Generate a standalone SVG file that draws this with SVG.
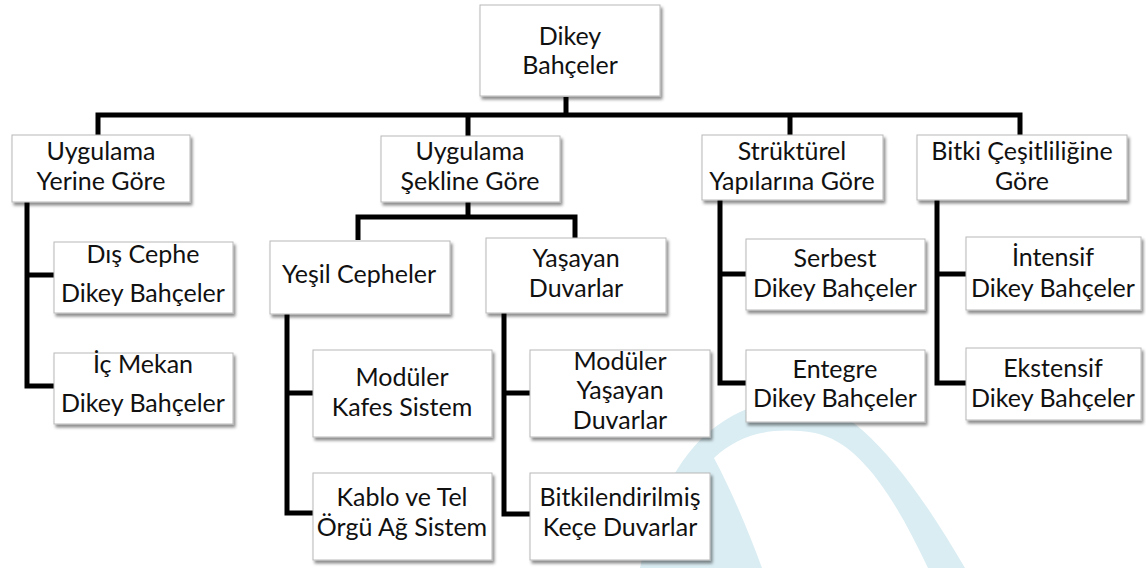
<svg xmlns="http://www.w3.org/2000/svg" width="1146" height="568" viewBox="0 0 1146 568">
  <defs>
    <filter id="shadow" x="-10%" y="-10%" width="130%" height="140%">
      <feDropShadow dx="2" dy="3" stdDeviation="1.8" flood-color="#000" flood-opacity="0.45"/>
    </filter>
    <style>
      .box { fill: #ffffff; stroke: #b8b8b8; stroke-width: 1; filter: url(#shadow); }
      .lbl { font-family: "Lato", "Liberation Sans", sans-serif; font-size: 25px; fill: #111; text-anchor: middle; }
      .wire { fill: none; stroke: #000; stroke-width: 5; stroke-linejoin: miter; stroke-linecap: butt; }
    </style>
  </defs>

  <rect width="1146" height="568" fill="#ffffff"/>

  <!-- pale background swoosh -->
  <path d="M640 568 C 650 515 672 468 702 438 C 732 410 770 397 800 399 C 852 404 905 465 965 568 L 928 568 C 892 492 858 442 815 433 C 772 426 740 434 714 458 C 732 492 748 530 762 568 Z" fill="#daedf3"/>

  <!-- connectors -->
  <g id="connectors">
    <path class="wire" d="M566 97 V115"/>
    <path class="wire" d="M98 135 V115 H1020 V135"/>
    <path class="wire" d="M468 115 V136"/>
    <path class="wire" d="M790 115 V135"/>
    <path class="wire" d="M27 202 V386 H54"/>
    <path class="wire" d="M27 275 H54"/>
    <path class="wire" d="M468 202 V217"/>
    <path class="wire" d="M358 240 V217 H575 V238"/>
    <path class="wire" d="M287 313 V513 H313"/>
    <path class="wire" d="M287 393 H313"/>
    <path class="wire" d="M504 313 V514 H530"/>
    <path class="wire" d="M504 393 H530"/>
    <path class="wire" d="M720 200 V383 H746"/>
    <path class="wire" d="M720 274 H746"/>
    <path class="wire" d="M937 200 V383 H968"/>
    <path class="wire" d="M937 274 H968"/>
  </g>

  <!-- root -->
  <g id="n-root">
    <rect class="box" x="480" y="5" width="180" height="91"/>
    <text class="lbl" x="570" y="45">Dikey</text>
    <text class="lbl" x="570" y="74">Bahçeler</text>
  </g>

  <!-- first level -->
  <g id="n-yerine">
    <rect class="box" x="12" y="135" width="178" height="67"/>
    <text class="lbl" x="101" y="160">Uygulama</text>
    <text class="lbl" x="101" y="190">Yerine Göre</text>
  </g>
  <g id="n-sekline">
    <rect class="box" x="381" y="136" width="179" height="66"/>
    <text class="lbl" x="470" y="160">Uygulama</text>
    <text class="lbl" x="470" y="190">Şekline Göre</text>
  </g>
  <g id="n-strukturel">
    <rect class="box" x="702" y="135" width="181" height="65"/>
    <text class="lbl" x="792" y="160">Strüktürel</text>
    <text class="lbl" x="792" y="190">Yapılarına Göre</text>
  </g>
  <g id="n-bitki">
    <rect class="box" x="917" y="135" width="210" height="65"/>
    <text class="lbl" x="1022" y="160">Bitki Çeşitliliğine</text>
    <text class="lbl" x="1022" y="190">Göre</text>
  </g>

  <!-- by location -->
  <g id="n-dis">
    <rect class="box" x="54" y="242" width="179" height="71"/>
    <text class="lbl" x="143" y="263">Dış Cephe</text>
    <text class="lbl" x="143" y="302">Dikey Bahçeler</text>
  </g>
  <g id="n-ic">
    <rect class="box" x="54" y="353" width="179" height="71"/>
    <text class="lbl" x="143" y="373">İç Mekan</text>
    <text class="lbl" x="143" y="412">Dikey Bahçeler</text>
  </g>

  <!-- by form -->
  <g id="n-yesil">
    <rect class="box" x="270" y="241" width="180" height="73"/>
    <text class="lbl" x="359" y="283">Yeşil Cepheler</text>
  </g>
  <g id="n-yasayan">
    <rect class="box" x="486" y="238" width="180" height="75"/>
    <text class="lbl" x="576" y="267">Yaşayan</text>
    <text class="lbl" x="576" y="297">Duvarlar</text>
  </g>
  <g id="n-kafes">
    <rect class="box" x="313" y="350" width="179" height="87"/>
    <text class="lbl" x="402" y="386">Modüler</text>
    <text class="lbl" x="402" y="416">Kafes Sistem</text>
  </g>
  <g id="n-kablo">
    <rect class="box" x="313" y="473" width="179" height="87"/>
    <text class="lbl" x="402" y="506">Kablo ve Tel</text>
    <text class="lbl" x="402" y="536">Örgü Ağ Sistem</text>
  </g>
  <g id="n-modyasayan">
    <rect class="box" x="530" y="350" width="180" height="87"/>
    <text class="lbl" x="620" y="370">Modüler</text>
    <text class="lbl" x="620" y="399">Yaşayan</text>
    <text class="lbl" x="620" y="429">Duvarlar</text>
  </g>
  <g id="n-kece">
    <rect class="box" x="530" y="473" width="180" height="87"/>
    <text class="lbl" x="620" y="506">Bitkilendirilmiş</text>
    <text class="lbl" x="620" y="536">Keçe Duvarlar</text>
  </g>

  <!-- by structure -->
  <g id="n-serbest">
    <rect class="box" x="746" y="239" width="179" height="71"/>
    <text class="lbl" x="835" y="267">Serbest</text>
    <text class="lbl" x="835" y="297">Dikey Bahçeler</text>
  </g>
  <g id="n-entegre">
    <rect class="box" x="746" y="350" width="179" height="72"/>
    <text class="lbl" x="835" y="378">Entegre</text>
    <text class="lbl" x="835" y="407">Dikey Bahçeler</text>
  </g>

  <!-- by plant variety -->
  <g id="n-intensif">
    <rect class="box" x="966" y="237" width="175" height="73"/>
    <text class="lbl" x="1053" y="266">İntensif</text>
    <text class="lbl" x="1053" y="297">Dikey Bahçeler</text>
  </g>
  <g id="n-ekstensif">
    <rect class="box" x="966" y="348" width="175" height="72"/>
    <text class="lbl" x="1053" y="377">Ekstensif</text>
    <text class="lbl" x="1053" y="407">Dikey Bahçeler</text>
  </g>
</svg>
